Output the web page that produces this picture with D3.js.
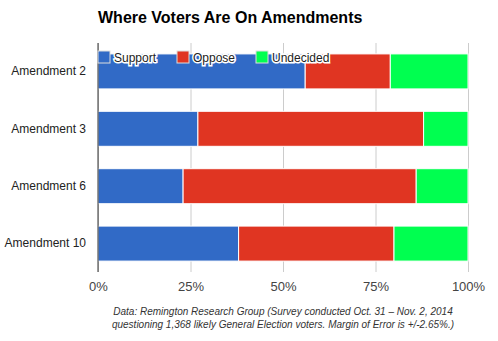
<!DOCTYPE html>
<html lang="en">
  <head>
    <meta charset="utf-8" />
    <title>Where Voters Are On Amendments</title>
    <script src="https://d3js.org/d3.v7.min.js"></script>
    <style>
      body { margin: 0; background: #fff; }
      svg { display: block; font-family: Arial, "Liberation Sans", sans-serif; }
    </style>
  </head>
  <body>
    <svg width="498" height="341"></svg>
  </body>
  <script>
    // Data to plot
    const categories = ['Amendment 2', 'Amendment 3', 'Amendment 6', 'Amendment 10'];
    const seriesNames = ['Support', 'Oppose', 'Undecided'];
    const support = [56, 27, 23, 38];
    const oppose = [23, 61, 63, 42];
    const undecided = [21, 12, 14, 20];
    const tickValues = [0, 25, 50, 75, 100];
    const colors = ['#316ac6', '#e03522', '#00ff50'];

    const svg = d3.select('svg');

    // Plot area
    const plotLeft = 98, plotRight = 468, plotTop = 43, plotBottom = 272;

    const x = d3.scaleLinear().domain([0, 100]).range([plotLeft, plotRight]);
    const y = d3.scaleBand().domain(categories).range([plotTop, plotBottom]).paddingInner(0.39).paddingOuter(0.19);

    // Vertical gridlines
    svg.append('g')
      .attr('transform', `translate(0, ${plotBottom})`)
      .call(d3.axisBottom(x).tickValues(tickValues).tickSize(-(plotBottom - plotTop)).tickFormat(''))
      .call(g => g.select('.domain').remove())
      .call(g => g.selectAll('line').attr('stroke', '#ccc'));

    // Stacked bars
    const rows = categories.map((c, i) => ({ cat: c, Support: support[i], Oppose: oppose[i], Undecided: undecided[i] }));
    const stacked = d3.stack().keys(seriesNames)(rows);

    svg.append('g').selectAll('g')
      .data(stacked)
      .join('g')
        .attr('fill', (d, i) => colors[i])
      .selectAll('rect')
      .data(d => d)
      .join('rect')
        .attr('x', d => x(d[0]))
        .attr('y', d => y(d.data.cat))
        .attr('width', d => x(d[1]) - x(d[0]))
        .attr('height', y.bandwidth())
        .attr('stroke', '#fff')
        .attr('stroke-width', 1);

    // Baseline axis
    svg.append('line')
      .attr('x1', x(0)).attr('x2', x(0))
      .attr('y1', plotTop).attr('y2', plotBottom)
      .attr('stroke', '#333');

    // X labels
    svg.append('g')
      .attr('transform', `translate(0, ${plotBottom})`)
      .call(d3.axisBottom(x).tickValues(tickValues).tickSize(0).tickPadding(10).tickFormat(d => d + '%'))
      .call(g => g.select('.domain').remove())
      .call(g => g.selectAll('text').attr('font-size', 13).attr('fill', '#444').attr('font-family', 'Arial, "Liberation Sans", sans-serif'));

    // Y labels
    svg.append('g')
      .attr('transform', `translate(${plotLeft}, 0)`)
      .call(d3.axisLeft(y).tickSize(0).tickPadding(12))
      .call(g => g.select('.domain').remove())
      .call(g => g.selectAll('text').attr('font-size', 12).attr('fill', '#222').attr('font-family', 'Arial, "Liberation Sans", sans-serif'));

    // Title
    svg.append('text')
      .attr('x', 98).attr('y', 23)
      .attr('font-size', 16).attr('font-weight', 'bold').attr('fill', '#000')
      .text('Where Voters Are On Amendments');

    // Legend
    const legendX = [98, 177, 256];
    const legend = svg.append('g').selectAll('g')
      .data(seriesNames)
      .join('g')
        .attr('transform', (d, i) => `translate(${legendX[i]}, 51)`);
    legend.append('rect')
      .attr('width', 12).attr('height', 12)
      .attr('fill', (d, i) => colors[i])
      .attr('stroke', '#ddd').attr('stroke-width', 1);
    legend.append('text')
      .attr('x', 16).attr('y', 10.5)
      .attr('font-size', 12).attr('fill', '#222')
      .attr('stroke', '#fff').attr('stroke-width', 3).attr('paint-order', 'stroke')
      .text(d => d);

    // Footnote
    const notes = ['Data: Remington Research Group (Survey conducted Oct. 31 \u2013 Nov. 2, 2014',
                   'questioning 1,368 likely General Election voters. Margin of Error is +/-2.65%.)'];
    svg.append('g').selectAll('text')
      .data(notes)
      .join('text')
        .attr('x', 283).attr('y', (d, i) => 315 + i * 13)
        .attr('text-anchor', 'middle')
        .attr('font-size', 10).attr('font-style', 'italic').attr('fill', '#333')
        .text(d => d);
  </script>
</html>
